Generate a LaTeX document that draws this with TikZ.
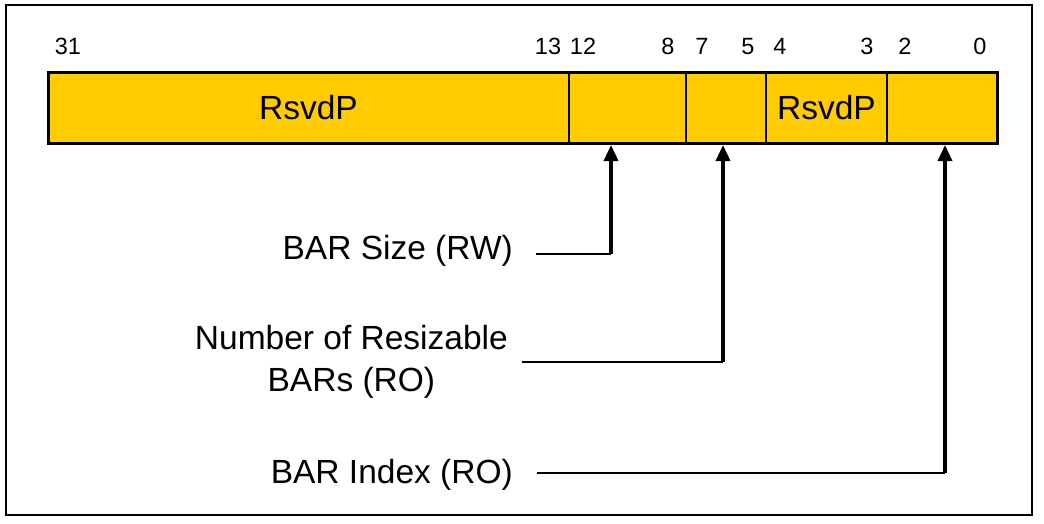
\documentclass[tikz,border=0pt]{standalone}
\usepackage{fontspec}
\setmainfont{Liberation Sans}
\usepackage{tikz}
\usetikzlibrary{arrows.meta}
\definecolor{regyellow}{HTML}{FFCC00}
\tikzset{l/.style={font=\fontsize{33.5}{42}\selectfont}}
\tikzset{m/.style={font=\fontsize{23.5}{23.5}\selectfont}}
\tikzset{fld/.style={draw,line width=1.6pt,fill=regyellow,minimum height=71pt,inner sep=0pt,outer sep=0pt,anchor=north west}}
\tikzset{hl/.style={line width=2pt}}
\tikzset{vl/.style={line width=3.5pt,-{Triangle[width=14pt,length=16pt]}}}

\begin{document}
\begin{tikzpicture}[x=1pt,y=-1pt]
  \useasboundingbox (0,0) rectangle (1044,523);
  \draw[line width=1.5pt] (6,5) rectangle (1032,515);
  % register fields
  \node[fld,l,minimum width=521pt] (F1) at (48,72) {RsvdP};
  \node[fld,minimum width=117pt] (F2) at (F1.north east) {};
  \node[fld,minimum width=80pt] (F3) at (F2.north east) {};
  \node[fld,l,minimum width=121pt] (F4) at (F3.north east) {RsvdP};
  \node[fld,minimum width=110pt] (F5) at (F4.north east) {};
  \draw[line width=3pt] (F1.north west) rectangle (F5.south east);
  % bit numbers
  \begin{scope}[every node/.style={m,anchor=base,inner sep=0pt}]
    \node (b31) at (68,54) {31};
    \node (b13) at (548,54) {13};
    \node (b12) at (583,54) {12};
    \node (b8) at (668,54) {8};
    \node (b7) at (702,54) {7};
    \node (b5) at (748,54) {5};
    \node (b4) at (780,54) {4};
    \node (b3) at (867,54) {3};
    \node (b2) at (905,54) {2};
    \node (b0) at (980,54) {0};
  \end{scope}
  % field descriptions
  \node[l,anchor=base east,inner sep=0pt] (szlbl) at (513,259) {BAR Size (RW)};
  \node[l,anchor=base east,inner sep=0pt,align=center] (nrlbl) at (508,391) {Number of Resizable\\BARs (RO)};
  \node[l,anchor=base east,inner sep=0pt] (ixlbl) at (513,483) {BAR Index (RO)};
  \coordinate (szs) at (536,254);
  \coordinate (szt) at (611,145);
  \coordinate (nrs) at (522,362);
  \coordinate (nrt) at (723,145);
  \coordinate (ixs) at (537,473);
  \coordinate (ixt) at (945,145);
  \draw[hl] (szs) -- (szs -| szt);
  \draw[vl] (szs -| szt) -- (szt);
  \draw[hl] (nrs) -- (nrs -| nrt);
  \draw[vl] (nrs -| nrt) -- (nrt);
  \draw[hl] (ixs) -- (ixs -| ixt);
  \draw[vl] (ixs -| ixt) -- (ixt);
\end{tikzpicture}
\end{document}
